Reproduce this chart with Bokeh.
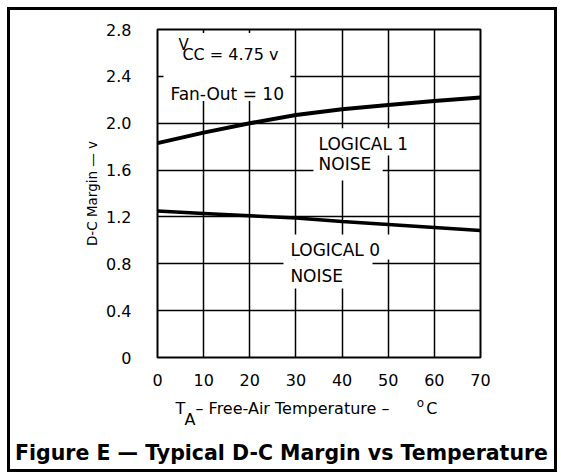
from bokeh.plotting import figure
from bokeh.layouts import column
from bokeh.models import Range1d, FixedTicker, CustomJSTickFormatter, Label
from bokeh.core.properties import value
from bokeh.embed import file_html
from bokeh.resources import INLINE

# ---- data ----
temps = [0, 10, 20, 30, 40, 50, 60, 70]
logical1 = [1.83, 1.92, 2.00, 2.07, 2.12, 2.155, 2.19, 2.22]
logical0 = [1.25, 1.23, 1.21, 1.19, 1.16, 1.135, 1.11, 1.085]
x_ticks = [0, 10, 20, 30, 40, 50, 60, 70]
y_ticks = [0, 0.4, 0.8, 1.2, 1.6, 2.0, 2.4, 2.8]
x_title_parts = ["T", "A", "– Free-Air Temperature –", "o", "C"]
caption = "Figure E — Typical D-C Margin vs Temperature"

FONT = "DejaVu Sans"
W = 544

p = figure(width=W, height=380, output_backend="svg", toolbar_location=None,
           x_range=Range1d(0, 70), y_range=Range1d(0, 2.8),
           min_border_left=147, min_border_right=74, min_border_top=19, min_border_bottom=33)
p.background_fill_color = "white"
p.border_fill_color = "white"
p.outline_line_color = "black"
p.outline_line_width = 2
p.outline_line_alpha = 1

for g in (p.xgrid, p.ygrid):
    g.grid_line_color = "black"
    g.grid_line_width = 1.5
    g.grid_line_alpha = 1
p.xgrid.ticker = FixedTicker(ticks=x_ticks)
p.ygrid.ticker = FixedTicker(ticks=y_ticks)

for ax in (p.xaxis[0], p.yaxis[0]):
    ax.axis_line_color = None
    ax.major_tick_line_color = None
    ax.minor_tick_line_color = None
    ax.major_label_text_font = FONT
    ax.major_label_text_font_size = "16px"
    ax.major_label_text_color = "black"
p.xaxis[0].ticker = FixedTicker(ticks=x_ticks)
p.yaxis[0].ticker = FixedTicker(ticks=y_ticks)
p.yaxis[0].formatter = CustomJSTickFormatter(code="return tick == 0 ? '0' : tick.toFixed(1);")
p.xaxis[0].major_label_standoff = 10
p.yaxis[0].major_label_standoff = 20
p.yaxis[0].axis_label = "D-C Margin — v"
p.yaxis[0].axis_label_text_font = FONT
p.yaxis[0].axis_label_text_font_size = "13.5px"
p.yaxis[0].axis_label_text_font_style = "normal"
p.yaxis[0].axis_label_text_color = "black"
p.yaxis[0].axis_label_standoff = 3

# white backgrounds behind the in-plot annotations
p.quad(left=[1.3, 33.8, 33.8, 27.3, 27.3], right=[28.8, 57.0, 48.8, 50.5, 46.6],
       bottom=[2.19, 1.725, 1.51, 0.837, 0.59], top=[2.77, 1.956, 1.725, 1.05, 0.837],
       fill_color="white", line_color=None)

p.line(temps, logical1, line_color="black", line_width=4)
p.line(temps, logical0, line_color="black", line_width=3.5)

def lab(x, y, text, size="17px"):
    p.add_layout(Label(x=x, y=y, text=text, text_font=FONT, text_font_size=size,
                       text_align="left", text_baseline="middle", text_color="black"))

lab(4.55, 2.664, "V", "15px")
lab(5.4, 2.587, "CC = 4.75 v", "16px")
lab(2.8, 2.246, "Fan-Out = 10", "17px")
lab(34.9, 1.82, "LOGICAL 1", "17px")
lab(34.9, 1.65, "NOISE", "17px")
lab(28.8, 0.914, "LOGICAL 0", "17px")
lab(28.8, 0.70, "NOISE", "17px")

# lower panel: x-axis title and caption (coordinates in page pixels)
p2 = figure(width=W, height=79, output_backend="svg", toolbar_location=None,
            x_range=Range1d(10, 10 + W), y_range=Range1d(469, 390),
            min_border=0, min_border_left=0, min_border_right=0,
            min_border_top=0, min_border_bottom=0)
try:
    p2.frame_align = False
except Exception:
    pass
p2.axis.visible = False
p2.grid.visible = False
p2.outline_line_color = None
p2.background_fill_color = "white"
p2.border_fill_color = "white"

p2.text(x=[175, 184, 195], y=[408, 419, 408], text=x_title_parts[:3],
        text_font=value(FONT), text_font_size="16px", text_align="left",
        text_baseline="middle", text_color="black")
p2.text(x=[420], y=[402], text=[x_title_parts[3]],
        text_font=value(FONT), text_font_size="12px", text_align="center",
        text_baseline="middle", text_color="black")
p2.text(x=[437], y=[408], text=[x_title_parts[4]],
        text_font=value(FONT), text_font_size="16px", text_align="right",
        text_baseline="middle", text_color="black")
p2.text(x=[281], y=[452], text=[caption],
        text_font=value(FONT), text_font_size="20.5px", text_font_style="bold",
        text_align="center", text_baseline="middle", text_color="black")

layout = column(p, p2, spacing=0)
layout.styles = {"border": "3px solid black", "margin-left": "7px", "margin-top": "7px"}

open("out.html", "w").write(file_html(layout, INLINE))
